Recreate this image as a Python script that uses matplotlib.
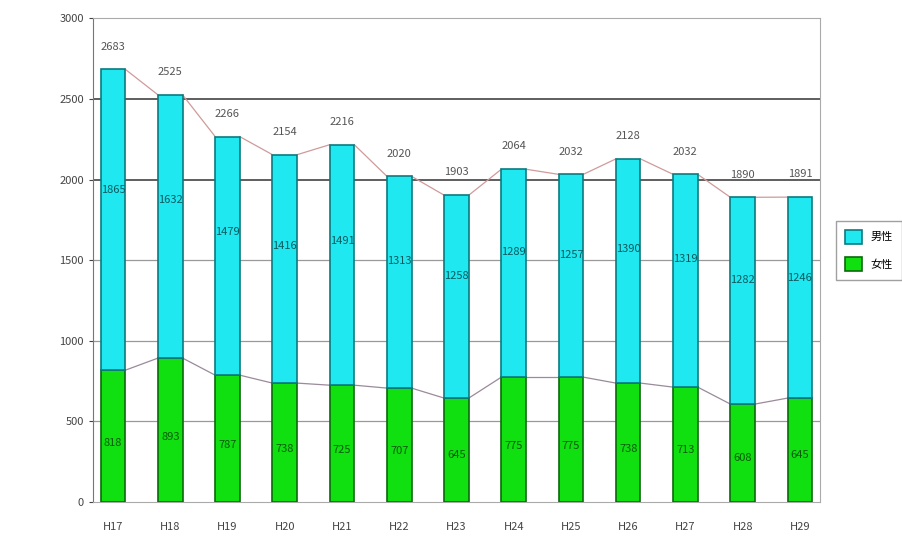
import numpy as np
import matplotlib.pyplot as plt

plt.rcParams['font.family'] = ['Noto Sans CJK JP', 'DejaVu Sans']

years = ["H17", "H18", "H19", "H20", "H21", "H22", "H23",
         "H24", "H25", "H26", "H27", "H28", "H29"]
lower = [818, 893, 787, 738, 725, 707, 645, 775, 775, 738, 713, 608, 645]
upper = [1865, 1632, 1479, 1416, 1491, 1313, 1258, 1289, 1257, 1390, 1319, 1282, 1246]
series_names = ["男性", "女性"]

total = [a + b for a, b in zip(lower, upper)]

fig = plt.figure(figsize=(9.03, 5.53), dpi=100)
ax = fig.add_axes([0.103, 0.092, 0.805, 0.875])

x = np.arange(len(years))
w = 0.43
b1 = ax.bar(x, lower, w, color="#10e010", edgecolor="#0a6a0a", linewidth=1.2,
            label=series_names[1], zorder=3)
b2 = ax.bar(x, upper, w, bottom=lower, color="#20e8f0", edgecolor="#0a7a80",
            linewidth=1.2, label=series_names[0], zorder=3)

# series lines between bars
for i in range(len(years) - 1):
    ax.plot([x[i] + w / 2, x[i + 1] - w / 2], [lower[i], lower[i + 1]],
            color="#9a8a9a", lw=0.9, zorder=2)
    ax.plot([x[i] + w / 2, x[i + 1] - w / 2], [total[i], total[i + 1]],
            color="#d09a9a", lw=0.9, zorder=2)

# labels
for i in range(len(years)):
    ax.text(x[i], total[i] + 110, str(total[i]), ha="center", va="bottom",
            fontsize=8, color="#555555", zorder=4)
    ax.text(x[i], lower[i] + upper[i] * 0.6, str(upper[i]), ha="center",
            va="center", fontsize=8, color="#0a5a60", zorder=4)
    ax.text(x[i], lower[i] * 0.45, str(lower[i]), ha="center", va="center",
            fontsize=8, color="#0a5a0a", zorder=4)

ax.set_xlim(-0.35, len(years) - 0.65)
ax.set_ylim(0, 3000)
ax.set_yticks(np.arange(0, 3001, 500))
ax.set_xticks(x)
ax.set_xticklabels(years, fontsize=8, color="#444444")
ax.tick_params(axis="y", labelsize=8, colors="#444444", length=3)
ax.tick_params(axis="x", length=0, pad=14)

for yv in [500, 1000, 1500]:
    ax.axhline(yv, color="#999999", lw=0.9, zorder=1)
for yv in [2000, 2500]:
    ax.axhline(yv, color="#333333", lw=1.1, zorder=1)

for s in ax.spines.values():
    s.set_color("#aaaaaa")
ax.spines["left"].set_color("#777777")

handles = [b2, b1]
leg = ax.legend(handles, series_names, loc="center left",
                bbox_to_anchor=(1.015, 0.52), fontsize=8, frameon=True,
                fancybox=False, edgecolor="#888888", handlelength=1.5,
                handleheight=1.6, labelspacing=1.2, borderpad=0.8)

fig.savefig("out.png", dpi=100)
